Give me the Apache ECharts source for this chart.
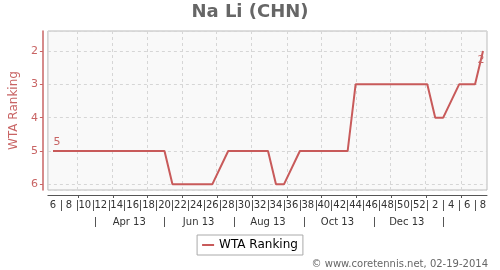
<!DOCTYPE html>
<html><head><meta charset="utf-8">
<script src="https://cdn.jsdelivr.net/npm/echarts@6/dist/echarts.min.js"></script>
<style>html,body{margin:0;padding:0;background:#fff}#c{width:500px;height:270px}</style>
</head><body><div id="c"></div>
<script>
// ---- data ----
const chartTitle = 'Na Li (CHN)';
const seriesName = 'WTA Ranking';
const creditText = '\u00a9 www.coretennis.net, 02-19-2014';
// ISO week numbers, week 6 of 2013 to week 8 of 2014 (one point per week)
const weekLabels = [6,7,8,9,10,11,12,13,14,15,16,17,18,19,20,21,22,23,24,25,26,27,28,29,30,31,32,33,34,35,36,37,38,39,40,41,42,43,44,45,46,47,48,49,50,51,52,1,2,3,4,5,6,7,8];
// WTA ranking per week (null = no ranking published that week)
const ranks = [5,5,5,5,5,5,5,5,5,5,5,5,5,5,5,
               6,6,6,6,6,6,
               null,
               5,5,5,5,5,5,
               6,6,
               null,
               5,5,5,5,5,5,5,
               3,3,3,3,3,3,3,3,3,3,
               4,4,
               null,
               3,3,3,
               2];
const monthLabels = ['Apr 13','Jun 13','Aug 13','Oct 13','Dec 13'];
const monthLabelMonths = ['2013-04','2013-06','2013-08','2013-10','2013-12'];
const monthSepMonths = ['2013-03','2013-05','2013-07','2013-09','2013-11','2014-01'];
const yTicks = [2,3,4,5,6];
// date range shown on the time axis and date of the first weekly point
const axisStartDate = '2013-02-03';
const axisEndDate = '2014-02-23';
const firstWeekDate = '2013-02-07';

// ---- build ----
const DAY = 86400000;
const t0 = Date.parse(axisStartDate + 'T00:00:00Z');
const t1 = Date.parse(axisEndDate + 'T00:00:00Z');
const nDays = Math.round((t1 - t0) / DAY) + 1;
const dayCats = [];
for (let i = 0; i < nDays; i++) dayCats.push(new Date(t0 + i * DAY).toISOString().slice(0, 10));
const firstOff = Math.round((Date.parse(firstWeekDate + 'T00:00:00Z') - t0) / DAY);

function weekIdx(i) { const d = i - firstOff; return (d >= 0 && d % 7 === 0) ? d / 7 : -1; }
const isMonthStart = i => dayCats[i].slice(8) === '01' && i > 0;
const isEvenWeek = i => { const w = weekIdx(i); return w >= 0 && w < weekLabels.length && w % 2 === 0; };
const isOddWeek = i => { const w = weekIdx(i); return w >= 0 && w < weekLabels.length && w % 2 === 1; };
const isMonthLabel = i => dayCats[i].slice(8) === '15' && monthLabelMonths.indexOf(dayCats[i].slice(0, 7)) >= 0;
const isMonthSep = i => dayCats[i].slice(8) === '16' && monthSepMonths.indexOf(dayCats[i].slice(0, 7)) >= 0;

const lineColor = '#c85a5a';
const axisRed = '#c86464';
const lastIdx = ranks.length - 1;
const seriesData = [];
ranks.forEach((r, i) => {
  if (r === null) return;
  const item = { value: [i * 7, r] };
  if (i === 0) item.label = { show: true, position: 'top', distance: 3, offset: [4, 0] };
  if (i === lastIdx) item.label = { show: true, position: 'bottom', distance: 4, offset: [-2, 0] };
  seriesData.push(item);
});

const chart = echarts.init(document.getElementById('c'), null, { renderer: 'canvas' });
const baseCat = { type: 'category', data: dayCats, boundaryGap: true, position: 'bottom', gridIndex: 0 };
chart.setOption({
  animation: false,
  backgroundColor: '#ffffff',
  textStyle: { fontFamily: 'DejaVu Sans' },
  title: [
    { text: chartTitle, left: 'center', top: 3, padding: 0, textStyle: { fontSize: 18, fontWeight: 'bold', color: '#666666', fontFamily: 'DejaVu Sans' } },
    { text: creditText, right: 12, bottom: 1, padding: 0, textStyle: { fontSize: 10, fontWeight: 'normal', color: '#666666', fontFamily: 'DejaVu Sans' } }
  ],
  legend: {
    top: 235, left: 'center',
    data: [{ name: seriesName, icon: 'rect' }],
    itemWidth: 12, itemHeight: 2,
    borderColor: '#aaaaaa', borderWidth: 1, backgroundColor: '#ffffff',
    padding: [4, 5, 4, 5],
    textStyle: { fontSize: 12, color: '#000000', fontFamily: 'DejaVu Sans' }
  },
  grid: { left: 46, right: 13, top: 31, bottom: 80, show: true, backgroundColor: '#f9f9f9', borderColor: '#bbbbbb', borderWidth: 1, containLabel: false },
  xAxis: [
    { type: 'value', gridIndex: 0, min: -(firstOff + 0.5), max: nDays - firstOff - 0.5, show: false, splitLine: { show: false } },
    Object.assign({}, baseCat, {
      offset: 5,
      axisLine: { show: true, onZero: false, lineStyle: { color: '#555555', width: 1 } },
      axisTick: { show: true, length: 3, alignWithLabel: true, interval: (i) => isMonthStart(i), lineStyle: { color: '#555555' } },
      axisLabel: { interval: (i) => isEvenWeek(i), formatter: (v, i) => String(weekLabels[weekIdx(i)]), fontSize: 10, color: '#333333', margin: 5 },
      splitLine: { show: true, interval: (i) => isMonthStart(i), lineStyle: { color: '#d6d6d6', type: [3, 3], width: 1 } }
    }),
    Object.assign({}, baseCat, {
      offset: 10,
      axisLine: { show: false, onZero: false },
      axisTick: { show: true, length: 11, alignWithLabel: true, interval: (i) => isOddWeek(i), lineStyle: { color: '#555555' } },
      axisLabel: { show: false },
      splitLine: { show: false }
    }),
    Object.assign({}, baseCat, {
      offset: 27,
      axisLine: { show: false, onZero: false },
      axisTick: { show: true, length: 10, alignWithLabel: true, interval: (i) => isMonthSep(i), lineStyle: { color: '#555555' } },
      axisLabel: { interval: (i) => isMonthLabel(i), formatter: (v) => monthLabels[monthLabelMonths.indexOf(v.slice(0, 7))], fontSize: 10, color: '#333333', margin: 0 },
      splitLine: { show: false }
    })
  ],
  yAxis: {
    type: 'value', inverse: true, min: 1.4, max: 6.17, minInterval: 1, maxInterval: 1,
    offset: 5,
    axisLine: { show: true, onZero: false, lineStyle: { color: axisRed, width: 1.5 } },
    axisTick: { show: true, length: 3, lineStyle: { color: axisRed } },
    axisLabel: { color: axisRed, fontSize: 11, margin: 5, showMinLabel: false, showMaxLabel: false,
      formatter: (v) => yTicks.indexOf(v) >= 0 ? String(v) : '' },
    splitLine: { show: true, lineStyle: { color: '#d6d6d6', type: [3, 3], width: 1 } },
    name: seriesName, nameLocation: 'middle', nameGap: 16,
    nameTextStyle: { color: axisRed, fontSize: 12, fontFamily: 'DejaVu Sans' }
  },
  series: [{
    name: seriesName, type: 'line', xAxisIndex: 0, yAxisIndex: 0,
    data: seriesData, symbol: 'circle', symbolSize: 0, showSymbol: true,
    lineStyle: { color: lineColor, width: 2 }, itemStyle: { color: lineColor },
    label: { color: axisRed, fontSize: 11, formatter: (p) => String(p.value[1]) }
  }]
});
</script></body></html>
